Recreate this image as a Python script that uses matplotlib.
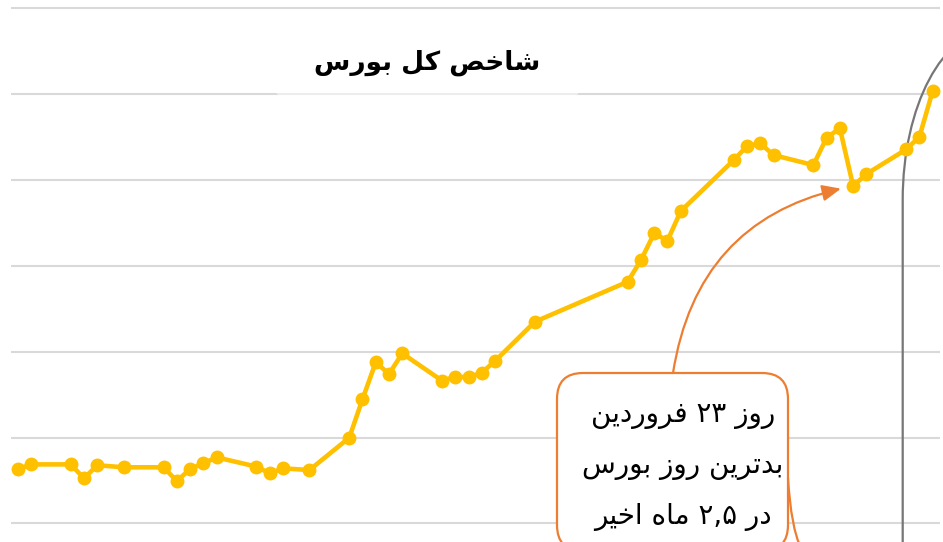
import re

import matplotlib
matplotlib.use("Agg")
import matplotlib.pyplot as plt
import matplotlib.transforms as mtransforms
from matplotlib.patches import FancyBboxPatch, PathPatch
from matplotlib.path import Path

# trading days (calendar-day index) and index level
days = [0, 1, 4, 5, 6, 8, 11, 12, 13, 14, 15, 18, 19, 20, 22,
        25, 26, 27, 28, 29, 32, 33, 34, 35, 36, 39,
        46, 47, 48, 49, 50, 54, 55, 56, 57,
        60, 61, 62, 63, 64, 67, 68, 69]
index_level = [331.5, 334.4, 334.4, 326.3, 333.9, 332.7, 332.7, 324.7, 331.7, 335.0,
               338.5, 333.1, 329.2, 332.1, 331.1,
               349.9, 372.3, 393.8, 387.0, 399.0, 383.1, 385.4, 385.1, 387.8, 394.6,
               417.4,
               440.7, 453.3, 468.9, 464.6, 481.8, 511.5, 519.7, 521.2, 514.4,
               508.6, 524.5, 530.0, 496.4, 503.4, 517.7, 525.1, 551.8]
grid_levels = [300, 350, 400, 450, 500, 550, 600]
worst_day = 63  # 23 Farvardin

title = "شاخص کل بورس"
note_lines = ["روز ۲۳ فروردین", "بدترین روز بورس", "در ۲,۵ ماه اخیر"]

# --- minimal Persian shaping (matplotlib does not join Arabic letters) ---
FORMS = {  # isolated, final, initial, medial
    "ا": ("\uFE8D", "\uFE8E", None, None),
    "ب": ("\uFE8F", "\uFE90", "\uFE91", "\uFE92"),
    "ت": ("\uFE95", "\uFE96", "\uFE97", "\uFE98"),
    "خ": ("\uFEA5", "\uFEA6", "\uFEA7", "\uFEA8"),
    "د": ("\uFEA9", "\uFEAA", None, None),
    "ر": ("\uFEAD", "\uFEAE", None, None),
    "ز": ("\uFEAF", "\uFEB0", None, None),
    "س": ("\uFEB1", "\uFEB2", "\uFEB3", "\uFEB4"),
    "ش": ("\uFEB5", "\uFEB6", "\uFEB7", "\uFEB8"),
    "ص": ("\uFEB9", "\uFEBA", "\uFEBB", "\uFEBC"),
    "ف": ("\uFED1", "\uFED2", "\uFED3", "\uFED4"),
    "ک": ("\uFB8E", "\uFB8F", "\uFB90", "\uFB91"),
    "ل": ("\uFEDD", "\uFEDE", "\uFEDF", "\uFEE0"),
    "م": ("\uFEE1", "\uFEE2", "\uFEE3", "\uFEE4"),
    "ن": ("\uFEE5", "\uFEE6", "\uFEE7", "\uFEE8"),
    "ه": ("\uFEE9", "\uFEEA", "\uFEEB", "\uFEEC"),
    "و": ("\uFEED", "\uFEEE", None, None),
    "ی": ("\uFBFC", "\uFBFD", "\uFBFE", "\uFBFF"),
}


def fa(text):
    out = []
    for i, ch in enumerate(text):
        if ch not in FORMS:
            out.append(ch)
            continue
        prev = text[i - 1] if i > 0 else ""
        nxt = text[i + 1] if i + 1 < len(text) else ""
        join_prev = prev in FORMS and FORMS[prev][2] is not None
        join_next = nxt in FORMS and FORMS[ch][2] is not None
        iso, fin, ini, med = FORMS[ch]
        if join_prev and join_next:
            out.append(med)
        elif join_prev:
            out.append(fin)
        elif join_next:
            out.append(ini)
        else:
            out.append(iso)
    vis = "".join(out)[::-1]
    # numbers stay left-to-right
    return re.sub(r"[0-9\u06F0-\u06F9,]+", lambda m: m.group(0)[::-1], vis)


W, H = 943, 542
fig = plt.figure(figsize=(W / 100, H / 100), dpi=100)
ax = fig.add_axes([11 / W, 0, 929 / W, 1])

# pixel transform (origin top-left) for the callout decorations
pix = mtransforms.Affine2D().scale(1 / W, -1 / H).translate(0, 1) + fig.transFigure

ax.set_xlim(-0.505, 69.55)
ax.set_ylim(289.23, 604.66)
ax.set_yticks(grid_levels)
ax.set_xticks([])
ax.grid(axis="y", color="#D9D9D9", lw=1.5)
ax.tick_params(left=False, labelleft=False)
for s in ax.spines.values():
    s.set_visible(False)

ax.plot(days, index_level, color="#FFC000", lw=3.3, marker="o", ms=9,
        zorder=5, clip_on=False)

# title panel: half-transparent white, lightens the grid line under it
ax.add_patch(FancyBboxPatch((275, 30), 305, 66, boxstyle="round,pad=0,rounding_size=8",
                            transform=pix, fc="white", ec="none", alpha=0.55,
                            zorder=2, clip_on=False))

# big grey callout edge on the right
grey = Path([(902.7, 560), (902.7, 200), (902.7, 106), (943, 30), (992.7, 30)],
            [Path.MOVETO, Path.LINETO, Path.CURVE4, Path.CURVE4, Path.CURVE4])
ax.add_patch(PathPatch(grey, transform=pix, fill=False, ec="#767676", lw=1.6,
                       zorder=3, clip_on=False))

# orange callout box
box = FancyBboxPatch((557, 373), 231, 178, boxstyle="round,pad=0,rounding_size=26",
                     transform=pix, fc="white", ec="#ED7D31", lw=1.6, zorder=3,
                     clip_on=False)
ax.add_patch(box)
wedge = Path([(788, 478), (791, 528), (801, 548)],
             [Path.MOVETO, Path.CURVE3, Path.CURVE3])
ax.add_patch(PathPatch(wedge, transform=pix, fill=False, ec="#ED7D31", lw=1.6,
                       zorder=3, clip_on=False))

for k, line in enumerate(note_lines):
    ax.text(683, 415 + k * 51, fa(line), transform=pix, ha="center", va="center",
            fontsize=20, family="DejaVu Sans", color="black", zorder=4)

i = days.index(worst_day)
ax.annotate("", xy=(days[i], index_level[i]), xytext=(673, 373), textcoords=pix,
            arrowprops=dict(arrowstyle="-|>,head_length=0.8,head_width=0.35",
                            color="#ED7D31", lw=1.6, mutation_scale=14,
                            connectionstyle="arc3,rad=-0.35",
                            shrinkA=0, shrinkB=9),
            zorder=4, annotation_clip=False)

fig.text(427.5 / W, 1 - 63 / H, fa(title), ha="center", va="center",
         fontsize=19, fontweight="bold", family="DejaVu Sans", color="black",
         zorder=6)

fig.savefig("out.png", dpi=100)
